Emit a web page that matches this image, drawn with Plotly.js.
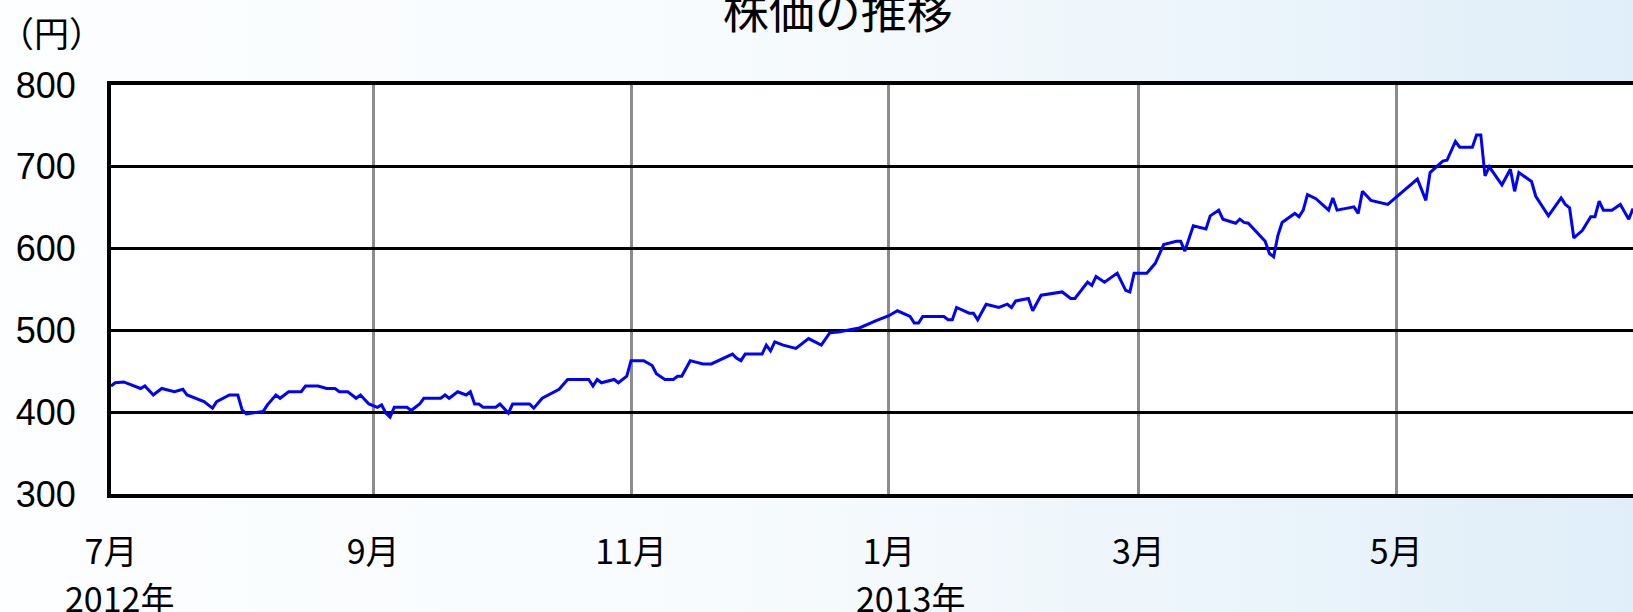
<!DOCTYPE html>
<html>
<head>
<meta charset="utf-8">
<script src="https://cdn.plot.ly/plotly-3.0.1.min.js"></script>
<style>
  html, body { margin: 0; padding: 0; }
  body {
    width: 1633px; height: 612px; overflow: hidden;
    background: linear-gradient(90deg, #fcfeff 0%, #f9fcfe 35%, #f2f8fc 60%, #e7f2fa 85%, #dfeef9 100%);
  }
  #chart { width: 1633px; height: 612px; }
</style>
</head>
<body>
<div id="chart"></div>
<script>
// ---- data ----
const dates = [
  "2012-07-01","2012-07-02","2012-07-04","2012-07-06","2012-07-08","2012-07-09","2012-07-11","2012-07-13",
  "2012-07-16","2012-07-18","2012-07-19","2012-07-23","2012-07-25","2012-07-26","2012-07-29","2012-07-31",
  "2012-08-01","2012-08-02","2012-08-06","2012-08-07","2012-08-09","2012-08-10","2012-08-12","2012-08-15",
  "2012-08-16","2012-08-19","2012-08-21","2012-08-23","2012-08-24","2012-08-26","2012-08-28","2012-08-29",
  "2012-08-31","2012-09-02","2012-09-03","2012-09-04","2012-09-05","2012-09-06","2012-09-09","2012-09-10",
  "2012-09-12","2012-09-13","2012-09-17","2012-09-18","2012-09-19","2012-09-21","2012-09-23","2012-09-24",
  "2012-09-25","2012-09-26","2012-09-27","2012-09-30","2012-10-01","2012-10-03","2012-10-04","2012-10-08",
  "2012-10-09","2012-10-11","2012-10-13","2012-10-15","2012-10-17","2012-10-22","2012-10-23","2012-10-24",
  "2012-10-25","2012-10-28","2012-10-29","2012-10-31","2012-11-01","2012-11-04","2012-11-06","2012-11-07",
  "2012-11-09","2012-11-11","2012-11-12","2012-11-13","2012-11-15","2012-11-18","2012-11-20","2012-11-22",
  "2012-11-25","2012-11-26","2012-11-27","2012-11-28","2012-12-02","2012-12-03","2012-12-04","2012-12-05",
  "2012-12-07","2012-12-10","2012-12-13","2012-12-16","2012-12-18","2012-12-20","2012-12-25","2012-12-29",
  "2013-01-01","2013-01-03","2013-01-06","2013-01-07","2013-01-08","2013-01-09","2013-01-14","2013-01-15",
  "2013-01-16","2013-01-17","2013-01-20","2013-01-21","2013-01-22","2013-01-24","2013-01-27","2013-01-29",
  "2013-01-30","2013-01-31","2013-02-03","2013-02-04","2013-02-06","2013-02-11","2013-02-13","2013-02-14",
  "2013-02-17","2013-02-18","2013-02-19","2013-02-21","2013-02-24","2013-02-26","2013-02-27","2013-02-28",
  "2013-03-03","2013-03-05","2013-03-07","2013-03-10","2013-03-11","2013-03-12","2013-03-14","2013-03-17",
  "2013-03-18","2013-03-20","2013-03-21","2013-03-24","2013-03-25","2013-03-26","2013-03-27","2013-03-31",
  "2013-04-01","2013-04-02","2013-04-03","2013-04-04","2013-04-07","2013-04-08","2013-04-09","2013-04-10",
  "2013-04-12","2013-04-15","2013-04-16","2013-04-17","2013-04-21","2013-04-22","2013-04-23","2013-04-25",
  "2013-04-29","2013-05-06","2013-05-08","2013-05-09","2013-05-12","2013-05-13","2013-05-14","2013-05-15",
  "2013-05-16","2013-05-19","2013-05-20","2013-05-21","2013-05-22","2013-05-23","2013-05-26","2013-05-28",
  "2013-05-29","2013-05-30","2013-06-02","2013-06-03","2013-06-06","2013-06-09","2013-06-10","2013-06-11",
  "2013-06-12","2013-06-14","2013-06-16","2013-06-17","2013-06-18","2013-06-19","2013-06-21","2013-06-23",
  "2013-06-25","2013-06-26"
];
const prices = [
  432,436,437,433,429,432,421,429,
  425,428,421,413,405,413,421,421,
  403,398,401,409,421,417,425,425,
  432,432,429,429,425,425,417,421,
  410,406,409,399,394,406,406,402,
  410,417,417,421,417,425,421,425,
  410,410,406,406,410,399,410,410,
  405,417,422,428,440,440,432,440,
  436,440,436,444,463,463,457,447,
  440,440,444,444,463,459,459,464,
  471,466,463,471,471,482,475,486,
  482,478,490,482,497,498,503,512,
  518,524,517,509,509,517,517,513,
  513,528,521,521,513,532,528,532,
  528,536,539,524,543,547,539,539,
  559,555,566,559,570,549,547,570,
  570,582,605,609,609,597,628,624,
  640,647,636,631,636,632,631,609,
  594,590,616,632,643,639,647,666,
  661,647,662,647,651,643,670,659,
  654,685,659,693,707,708,720,731,
  724,724,739,739,689,700,678,697,
  670,693,682,664,640,662,654,650,
  613,622,639,639,658,647,647,654,
  636,649
];

// ---- axis ticks / labels ----
const xTickVals = ["2012-07-01","2012-09-01","2012-11-01","2013-01-01","2013-03-01","2013-05-01"];
const xTickText = ["7月","9月","11月","1月","3月","5月"];
const yTickVals = [300, 400, 500, 600, 700, 800];
const yTickText = ["300","400","500","600","700","800"];
const yearLabels = ["2012年", "2013年"];
const yearLabelDates = ["2012-07-03", "2013-01-06"];
const chartTitle = "株価の推移";
const unitLabel = "（円）";

const cjk = '"Noto Sans CJK JP", "Noto Sans", sans-serif';
const latin = '"Liberation Sans", Arial, sans-serif';

const trace = {
  type: 'scatter', mode: 'lines',
  x: dates, y: prices,
  line: { color: '#0000ff', width: 3 },
  hoverinfo: 'skip'
};

const layout = {
  width: 1633, height: 612,
  margin: { l: 111, r: 0, t: 85, b: 118, pad: 0 },
  paper_bgcolor: 'rgba(0,0,0,0)',
  plot_bgcolor: '#ffffff',
  showlegend: false,
  title: {
    text: chartTitle,
    font: { family: cjk, size: 46, color: '#000000' },
    x: 0.513, xref: 'container', xanchor: 'center',
    y: 0.980, yref: 'container', yanchor: 'middle'
  },
  xaxis: {
    type: 'date',
    range: ['2012-07-01', '2013-06-26'],
    tickmode: 'array', tickvals: xTickVals, ticktext: xTickText,
    tickfont: { family: cjk, size: 34, color: '#000000' },
    ticks: 'outside', ticklen: 25, tickcolor: 'rgba(0,0,0,0)',
    showgrid: true, gridcolor: '#8c8c8c', gridwidth: 3,
    showline: true, linecolor: '#000000', linewidth: 4, mirror: true,
    zeroline: false, fixedrange: true
  },
  yaxis: {
    range: [300, 800],
    tickmode: 'array', tickvals: yTickVals, ticktext: yTickText,
    tickfont: { family: latin, size: 36, color: '#000000' },
    ticks: 'outside', ticklen: 24, tickcolor: 'rgba(0,0,0,0)',
    showgrid: true, gridcolor: '#000000', gridwidth: 3,
    showline: true, linecolor: '#000000', linewidth: 4, mirror: false,
    zeroline: false, fixedrange: true
  },
  annotations: [
    {
      text: unitLabel, xref: 'paper', yref: 'paper',
      x: -0.0388, y: 1.13, xanchor: 'center', yanchor: 'middle',
      showarrow: false, font: { family: cjk, size: 35, color: '#000000' }
    },
    {
      text: yearLabels[0], xref: 'x', yref: 'paper',
      x: yearLabelDates[0], y: -0.252, xanchor: 'center', yanchor: 'middle',
      showarrow: false, font: { family: cjk, size: 34, color: '#000000' }
    },
    {
      text: yearLabels[1], xref: 'x', yref: 'paper',
      x: yearLabelDates[1], y: -0.252, xanchor: 'center', yanchor: 'middle',
      showarrow: false, font: { family: cjk, size: 34, color: '#000000' }
    }
  ]
};

Plotly.newPlot('chart', [trace], layout, { staticPlot: true, displayModeBar: false });
</script>
</body>
</html>
